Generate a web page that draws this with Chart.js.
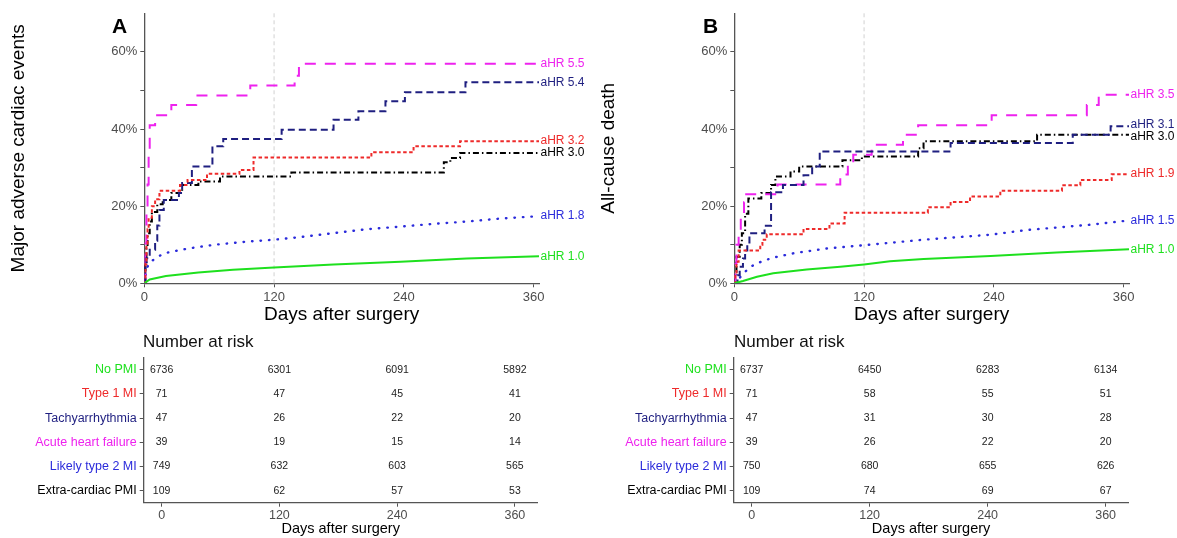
<!DOCTYPE html>
<html>
<head>
<meta charset="utf-8">
<script src="https://cdn.jsdelivr.net/npm/chart.js@4.4.1/dist/chart.umd.min.js"></script>
<style>
  html, body { margin: 0; padding: 0; background: #fff; }
  #fig { position: relative; width: 1177px; height: 538px; overflow: hidden; font-family: 'Liberation Sans', Arial, sans-serif; }
  #fig canvas { position: absolute; }
  .panel { position: absolute; font-weight: bold; font-size: 21px; line-height: 24px; color: #000; }
  .risk-title { position: absolute; font-size: 17px; line-height: 20px; color: #111; }
</style>
</head>
<body>
<div id="fig">
  <canvas id="kmA" width="590" height="326" style="left:0;top:0;width:590px;height:326px"></canvas>
  <canvas id="kmB" width="587" height="326" style="left:590px;top:0;width:587px;height:326px"></canvas>
  <canvas id="riskA" width="590" height="208" style="left:0;top:330px;width:590px;height:208px"></canvas>
  <canvas id="riskB" width="587" height="208" style="left:590px;top:330px;width:587px;height:208px"></canvas>
  <div class="panel" style="left:112px;top:14px">A</div>
  <div class="panel" style="left:703px;top:14px">B</div>
  <div class="risk-title" style="left:143px;top:332px">Number at risk</div>
  <div class="risk-title" style="left:734px;top:332px">Number at risk</div>
</div>
<script>
// --- Data ---
const groups = ['No PMI', 'Type 1 MI', 'Tachyarrhythmia', 'Acute heart failure', 'Likely type 2 MI', 'Extra-cardiac PMI'];
const dayTicks = [0, 120, 240, 360];
const refDay = 120;

// cumulative incidence (%), [day, percent]
const noPmiA    = [[0,0],[5,1.0],[20,1.9],[50,2.8],[82,3.5],[120,4.1],[175,4.9],[237,5.6],[298,6.4],[365,7.0]];
const type1A    = [[0,0],[1,5],[2,10],[3,14],[4,17],[7,20],[10,21.8],[14,24],[33,25.5],[40,26.8],[58,28.4],[88,29.4],[101,32.6],[210,34],[249,35.5],[292,36.8],[365,36.8]];
const tachyA    = [[0,0],[1,4.5],[2,6.5],[5,8.7],[10,11],[12,15],[14,19],[18,21.6],[32,23.4],[35,26],[44,30.3],[63,35.5],[73,37.4],[127,39.8],[175,42.4],[198,44.6],[223,47.2],[241,49.5],[297,52.1],[365,52.1]];
const ahfA      = [[0,0],[1,10.3],[2,17.9],[3,25.6],[4,33.3],[5,41],[10,43.6],[25,46.2],[48,48.7],[98,51.3],[139,53.8],[143,56.9],[365,56.9]];
const likelyT2A = [[0,0],[1,2],[2,3.5],[4,5],[8,6],[13,7],[22,8],[40,9],[65,10],[95,10.8],[120,11.3],[145,12],[175,13],[205,14],[237,14.7],[267,15.4],[298,16],[330,16.8],[365,17.4]];
const extraA    = [[0,0],[1,5],[2,9],[3,13],[5,16],[7,18.5],[12,20.5],[17,21.6],[25,23.4],[35,25.5],[50,26.4],[70,27.7],[136,28.7],[277,31.4],[283,32.5],[292,33.8],[365,33.8]];

// panel B
const noPmiB    = [[0,0],[8,0.6],[21,1.7],[36,2.6],[67,3.6],[98,4.3],[120,4.9],[144,5.7],[175,6.3],[237,7.1],[298,8],[365,8.8]];
const type1B    = [[0,0],[1,2.8],[2,5.6],[4,8.5],[24,10],[26,11.3],[30,12.7],[64,14.1],[88,15.5],[102,18.3],[179,19.7],[200,21.1],[218,22.5],[246,24],[303,25.4],[320,26.8],[349,28.3],[365,28.3]];
const tachyB    = [[0,0],[3,2.1],[5,4.3],[8,6.4],[10,8.5],[12,10.6],[14,13],[28,14.9],[34,23.6],[45,25.5],[64,28],[72,30.3],[79,34.2],[200,36.4],[313,38.5],[348,40.7],[365,40.7]];
const ahfB      = [[0,0],[1,5],[2,10],[4,13],[6,18],[9,21],[11,23.1],[40,25.6],[98,28.2],[105,30.8],[110,33.3],[127,35.9],[156,38.5],[170,41.0],[238,43.6],[326,46.2],[337,48.9],[365,48.9]];
const likelyT2B = [[0,0],[3,0.5],[6,1.8],[10,3],[15,4.3],[24,5.5],[35,6.6],[55,7.8],[85,9],[125,10],[175,11.3],[237,12.6],[270,13.8],[330,15.2],[365,16.3]];
const extraB    = [[0,0],[1,3],[2,6.9],[5,10],[7,13],[10,18],[13,22],[25,23.4],[34,25.5],[38,27.7],[52,29],[60,30.3],[100,31.9],[118,32.9],[170,35],[175,36.8],[280,38.5],[365,38.5]];

const hrA = ['1.0', '3.2', '5.4', '5.5', '1.8', '3.0'];
const hrB = ['1.0', '1.9', '3.1', '3.5', '1.5', '3.0'];

const riskA = [[6736,6301,6091,5892],[71,47,45,41],[47,26,22,20],[39,19,15,14],[749,632,603,565],[109,62,57,53]];
const riskB = [[6737,6450,6283,6134],[71,58,55,51],[47,31,30,28],[39,26,22,20],[750,680,655,626],[109,74,69,67]];

// --- Styles ---
const groupColors = ['#1ee01e', '#ee2a2a', '#1f1f80', '#ee22ee', '#2b2bdb', '#000000'];
const groupDash = [[], [3.5, 2.5], [7, 4], [11, 9], [0.5, 8], [6, 3, 1.5, 3]];
const groupStepped = [false, true, true, true, false, true];
const axisColor = '#555555';
const tickColor = '#4d4d4d';

Chart.defaults.font.family = "'Liberation Sans', Arial, sans-serif";
Chart.defaults.animation = false;

// --- Plugins ---
const refLine = {
    id: 'refLine',
    beforeDatasetsDraw(chart) {
        const { ctx, chartArea, scales } = chart;
        const x = scales.x.getPixelForValue(refDay);
        ctx.save();
        ctx.strokeStyle = '#d2d2d2';
        ctx.lineWidth = 1;
        ctx.setLineDash([4, 3]);
        ctx.beginPath();
        ctx.moveTo(x, chartArea.top);
        ctx.lineTo(x, chartArea.bottom);
        ctx.stroke();
        ctx.restore();
    }
};

const endLabels = {
    id: 'endLabels',
    afterDatasetsDraw(chart) {
        const { ctx, chartArea } = chart;
        const items = chart.data.datasets.map((ds, i) => {
            const pts = chart.getDatasetMeta(i).data;
            return { text: 'aHR ' + ds.hr, color: ds.borderColor, y: pts[pts.length - 1].y };
        }).sort((a, b) => a.y - b.y);
        // nudge labels that would overlap
        for (let k = 1; k < items.length; k++) {
            const gap = items[k].y - items[k - 1].y;
            if (gap < 12) {
                const d = (12 - gap) / 2;
                items[k - 1].y -= d;
                items[k].y += d;
            }
        }
        ctx.save();
        ctx.font = "12px 'Liberation Sans', Arial, sans-serif";
        ctx.textAlign = 'left';
        ctx.textBaseline = 'middle';
        items.forEach(it => {
            ctx.fillStyle = it.color;
            ctx.fillText(it.text, chartArea.right + 1.5, it.y);
        });
        ctx.restore();
    }
};

const riskNumbers = {
    id: 'riskNumbers',
    afterDatasetsDraw(chart) {
        const { ctx } = chart;
        ctx.save();
        ctx.font = "10.5px 'Liberation Sans', Arial, sans-serif";
        ctx.fillStyle = '#222';
        ctx.textAlign = 'center';
        ctx.textBaseline = 'middle';
        chart.data.datasets.forEach((ds, i) => {
            chart.getDatasetMeta(i).data.forEach((pt, j) => {
                ctx.fillText(String(ds.data[j].n), pt.x, pt.y);
            });
        });
        ctx.restore();
    }
};

const setDayTicks = s => { s.ticks = dayTicks.map(v => ({ value: v })); };

// --- Cumulative incidence charts ---
const makeKm = (id, series, hrs, yTitle, padRight) => new Chart(document.getElementById(id), {
    type: 'scatter',
    data: {
        datasets: series.map((pts, i) => ({
            label: groups[i],
            hr: hrs[i],
            data: pts.map(p => ({ x: p[0], y: p[1] })),
            showLine: true,
            stepped: groupStepped[i],
            borderColor: groupColors[i],
            borderWidth: i === 4 ? 2.4 : 2,
            borderDash: groupDash[i],
            borderCapStyle: i === 4 ? 'round' : 'butt',
            pointRadius: 0,
            fill: false
        }))
    },
    options: {
        responsive: false,
        layout: { padding: { top: 13.3, right: padRight, bottom: 0, left: 0 } },
        plugins: { legend: { display: false }, tooltip: { enabled: false } },
        scales: {
            x: {
                type: 'linear', min: 0, max: 365,
                afterBuildTicks: setDayTicks,
                afterFit: s => { s.height = 42.7; },
                ticks: { color: tickColor, font: { size: 13 }, padding: 2, maxRotation: 0, autoSkip: false },
                grid: { drawOnChartArea: false, tickLength: 4, color: axisColor },
                border: { color: axisColor, width: 1.3 },
                title: { display: true, text: 'Days after surgery', color: '#000', font: { size: 19 }, padding: 0 }
            },
            y: {
                min: 0, max: 70,
                afterFit: s => { s.width = 144.3; },
                ticks: {
                    stepSize: 10, color: tickColor, font: { size: 13 }, padding: 3,
                    callback: v => v === 70 ? null : (v % 20 === 0 ? v + '%' : '')
                },
                grid: { drawOnChartArea: false, tickLength: 4, color: axisColor },
                border: { color: axisColor, width: 1.3 },
                title: { display: true, text: yTitle, color: '#000', font: { size: 19 }, padding: { top: 7, bottom: 0 } }
            }
        }
    },
    plugins: [refLine, endLabels]
});

makeKm('kmA', [noPmiA, type1A, tachyA, ahfA, likelyT2A, extraA], hrA, 'Major adverse cardiac events', 51);
makeKm('kmB', [noPmiB, type1B, tachyB, ahfB, likelyT2B, extraB], hrB, 'All-cause death', 48);

// --- Number at risk tables ---
const makeRisk = (id, risk, padRight) => new Chart(document.getElementById(id), {
    type: 'scatter',
    data: {
        datasets: groups.map((g, i) => ({
            label: g,
            data: dayTicks.map((d, j) => ({ x: d, y: g, n: risk[i][j] })),
            pointRadius: 0
        }))
    },
    options: {
        responsive: false,
        layout: { padding: { top: 27.7, right: padRight, bottom: 0, left: 0 } },
        plugins: { legend: { display: false }, tooltip: { enabled: false } },
        scales: {
            x: {
                type: 'linear', min: -18.25, max: 383.25,
                afterBuildTicks: setDayTicks,
                afterFit: s => { s.height = 35.3; },
                ticks: { color: tickColor, font: { size: 12.5 }, padding: 1, maxRotation: 0, autoSkip: false },
                grid: { drawOnChartArea: false, tickLength: 4, color: axisColor },
                border: { color: axisColor, width: 1.3 },
                title: { display: true, text: 'Days after surgery', color: '#000', font: { size: 14.5 }, padding: 0 }
            },
            y: {
                type: 'category', labels: groups, offset: true,
                afterFit: s => { s.width = 143.7; },
                ticks: { color: c => groupColors[c.index], font: { size: 12.5 }, padding: 3 },
                grid: { drawOnChartArea: false, tickLength: 4, color: axisColor },
                border: { color: axisColor, width: 1.3 }
            }
        }
    },
    plugins: [riskNumbers]
});

makeRisk('riskA', riskA, 52.3);
makeRisk('riskB', riskB, 48.5);
</script>
</body>
</html>
